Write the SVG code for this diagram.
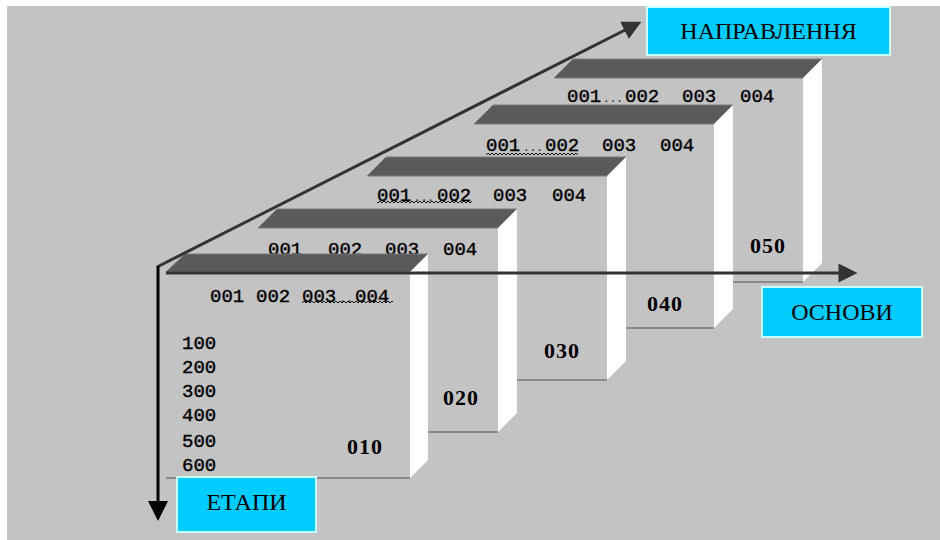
<svg xmlns="http://www.w3.org/2000/svg" width="940" height="540" viewBox="0 0 940 540">
  <style>
    .front { fill: #c3c3c3; }
    .band { fill: #5a5a5a; stroke: #7a7a7a; stroke-width: 1; }
    .side { fill: #ffffff; }
    .base { stroke: #8a8a8a; stroke-width: 2; fill: none; }
    .code { font-family: "Liberation Mono", "DejaVu Sans Mono", monospace; font-size: 19px; fill: #000; stroke: #000; stroke-width: 0.4; }
    .dots { font-family: "Liberation Mono", "DejaVu Sans Mono", monospace; font-size: 11px; fill: #000; text-anchor: middle; }
    .stage { font-family: "Liberation Serif", "DejaVu Serif", serif; font-size: 22px; font-weight: bold; letter-spacing: 1px; fill: #000; }
    .tag rect { fill: #00ccff; stroke: #c8ffff; stroke-width: 2; }
    .tag text { font-family: "Liberation Serif", "DejaVu Serif", serif; font-size: 24px; fill: #000; text-anchor: middle; }
    .wavy { fill: url(#wavy); }
    .axis { fill: none; stroke-width: 3; }
  </style>
  <defs>
    <pattern id="wavy" width="4" height="4" patternUnits="userSpaceOnUse">
      <path d="M0,1 L2,3 L4,1" fill="none" stroke="#000" stroke-width="0.9"/>
    </pattern>
    <marker id="head-black" viewBox="0 0 20 20" refX="10" refY="10" markerWidth="20" markerHeight="20" markerUnits="userSpaceOnUse" orient="auto">
      <path d="M0,0 L20,10 L0,20 z" fill="#000"/>
    </marker>
    <marker id="head-dark" viewBox="0 0 20 20" refX="10" refY="10" markerWidth="20" markerHeight="19" markerUnits="userSpaceOnUse" orient="auto">
      <path d="M0,0 L20,10 L0,20 z" fill="#333"/>
    </marker>
  </defs>

  <!-- canvas -->
  <rect x="0" y="0" width="940" height="540" fill="#ffffff"/>
  <rect x="7" y="6" width="933" height="534" fill="#c3c3c3"/>

  <!-- stage panels, back to front -->
  <g id="panel-050">
    <rect class="front" x="554" y="78" width="249" height="204"/>
    <polygon class="band" points="554,78 573,59 822,59 803,78"/>
    <polygon class="side" points="803,78 822,59 822,263 803,282"/>
    <line class="base" x1="554" y1="282" x2="803" y2="282"/>
    <text class="code" x="567" y="102">001</text>
    <text class="dots" x="613" y="102">...</text>
    <text class="code" x="625" y="102">002</text>
    <text class="code" x="682" y="102">003</text>
    <text class="code" x="740" y="102">004</text>
    <text class="stage" x="750" y="253">050</text>
  </g>

  <g id="panel-040">
    <rect class="front" x="474" y="124" width="240" height="204"/>
    <polygon class="band" points="474,124 493,105 733,105 714,124"/>
    <polygon class="side" points="714,124 733,105 733,309 714,328"/>
    <line class="base" x1="474" y1="328" x2="714" y2="328"/>
    <text class="code" x="486" y="151">001</text>
    <text class="dots" x="533" y="151">...</text>
    <text class="code" x="545" y="151">002</text>
    <text class="code" x="602" y="151">003</text>
    <text class="code" x="660" y="151">004</text>
    <rect class="wavy" x="486" y="152" width="92" height="4"/>
    <text class="stage" x="647" y="311">040</text>
  </g>

  <g id="panel-030">
    <rect class="front" x="367" y="176" width="240" height="204"/>
    <polygon class="band" points="367,176 386,157 626,157 607,176"/>
    <polygon class="side" points="607,176 626,157 626,361 607,380"/>
    <line class="base" x1="367" y1="380" x2="607" y2="380"/>
    <text class="code" x="377" y="201">001</text>
    <text class="dots" x="424" y="201">...</text>
    <text class="code" x="437" y="201">002</text>
    <text class="code" x="493" y="201">003</text>
    <text class="code" x="552" y="201">004</text>
    <rect class="wavy" x="377" y="200" width="95" height="4"/>
    <text class="stage" x="544" y="358">030</text>
  </g>

  <g id="panel-020">
    <rect class="front" x="258" y="228" width="240" height="204"/>
    <polygon class="band" points="258,228 277,209 517,209 498,228"/>
    <polygon class="side" points="498,228 517,209 517,413 498,432"/>
    <line class="base" x1="258" y1="432" x2="498" y2="432"/>
    <text class="code" x="268" y="255">001</text>
    <text class="code" x="328" y="255">002</text>
    <text class="code" x="385" y="255">003</text>
    <text class="code" x="443" y="255">004</text>
    <text class="stage" x="443" y="405">020</text>
  </g>

  <g id="panel-010">
    <rect class="front" x="166" y="272" width="244" height="206"/>
    <polygon class="band" points="166,272 185,254 428,254 410,272"/>
    <polygon class="side" points="410,272 428,254 428,460 410,478"/>
    <line class="base" x1="166" y1="478" x2="410" y2="478"/>
    <text class="code" x="210" y="302">001</text>
    <text class="code" x="256" y="302">002</text>
    <text class="code" x="302" y="302">003</text>
    <text class="dots" x="346" y="302">..</text>
    <text class="code" x="355" y="302">004</text>
    <rect class="wavy" x="302" y="300" width="91" height="4"/>
    <text class="code" x="182" y="349">100</text>
    <text class="code" x="182" y="373">200</text>
    <text class="code" x="182" y="397">300</text>
    <text class="code" x="182" y="421">400</text>
    <text class="code" x="182" y="447">500</text>
    <text class="code" x="182" y="471">600</text>
    <text class="stage" x="347" y="454">010</text>
  </g>

  <!-- axes -->
  <g id="connectors">
    <line id="axis-direction" class="axis" stroke="#333" x1="157" y1="267" x2="633" y2="26" marker-end="url(#head-dark)"/>
    <line id="axis-base" class="axis" stroke="#333" x1="166" y1="273" x2="848" y2="273" marker-end="url(#head-dark)"/>
    <line id="axis-stage" class="axis" stroke="#000" x1="158" y1="266" x2="158" y2="511" marker-end="url(#head-black)"/>
  </g>

  <!-- axis captions -->
  <g id="tag-direction" class="tag">
    <rect x="647" y="7" width="243" height="48"/>
    <text x="768.5" y="39">НАПРАВЛЕННЯ</text>
  </g>
  <g id="tag-base" class="tag">
    <rect x="762" y="287" width="160" height="50"/>
    <text x="842" y="320">ОСНОВИ</text>
  </g>
  <g id="tag-stage" class="tag">
    <rect x="177" y="477" width="139" height="55"/>
    <text x="246.5" y="510">ЕТАПИ</text>
  </g>
</svg>
